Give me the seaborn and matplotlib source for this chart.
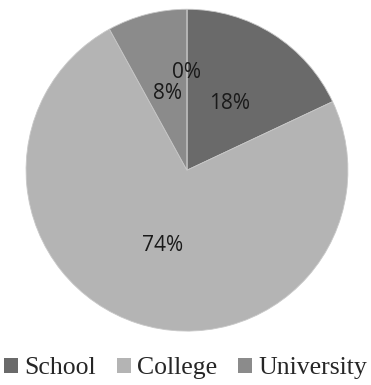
import matplotlib
matplotlib.use("Agg")
import matplotlib.pyplot as plt
import seaborn as sns
from matplotlib.patches import Patch

categories = ["School", "College", "University", ""]
values = [18, 74, 8, 0]
labels_pct = ["18%", "74%", "8%", "0%"]
colors = ["#6a6a6a", "#b4b4b4", "#8b8b8b", "#9a9a9a"]

sns.set_theme(style="white")
plt.rcParams['font.family'] = ['Open Sans', 'DejaVu Sans']

fig = plt.figure(figsize=(3.71, 3.85), dpi=100)
ax = fig.add_axes([0.070, 0.140, 0.868, 0.836])
wedges, texts = ax.pie(values, colors=colors, startangle=90, counterclock=False,
                       labels=labels_pct, labeldistance=0.49,
                       wedgeprops=dict(linewidth=0.6, edgecolor="#c8c8c8"),
                       textprops=dict(fontsize=15, color="#1a1a1a", ha="center", va="center"))
# move the zero label outward to avoid overlap
x, y = texts[3].get_position()
texts[3].set_position((x, 0.61))
ax.set_xlim(-1, 1)
ax.set_ylim(-1, 1)
ax.set_aspect("equal", adjustable="box")

handles = [Patch(facecolor=c, edgecolor="none") for c in colors[:3]]
leg = fig.legend(handles, categories[:3], loc="center", bbox_to_anchor=(0.5, 0.043),
                 ncol=3, frameon=False, handlelength=0.55, handleheight=0.55,
                 handletextpad=0.25, columnspacing=0.8,
                 prop=dict(family="Liberation Serif", size=18.5))
fig.savefig("out.png", dpi=100)
